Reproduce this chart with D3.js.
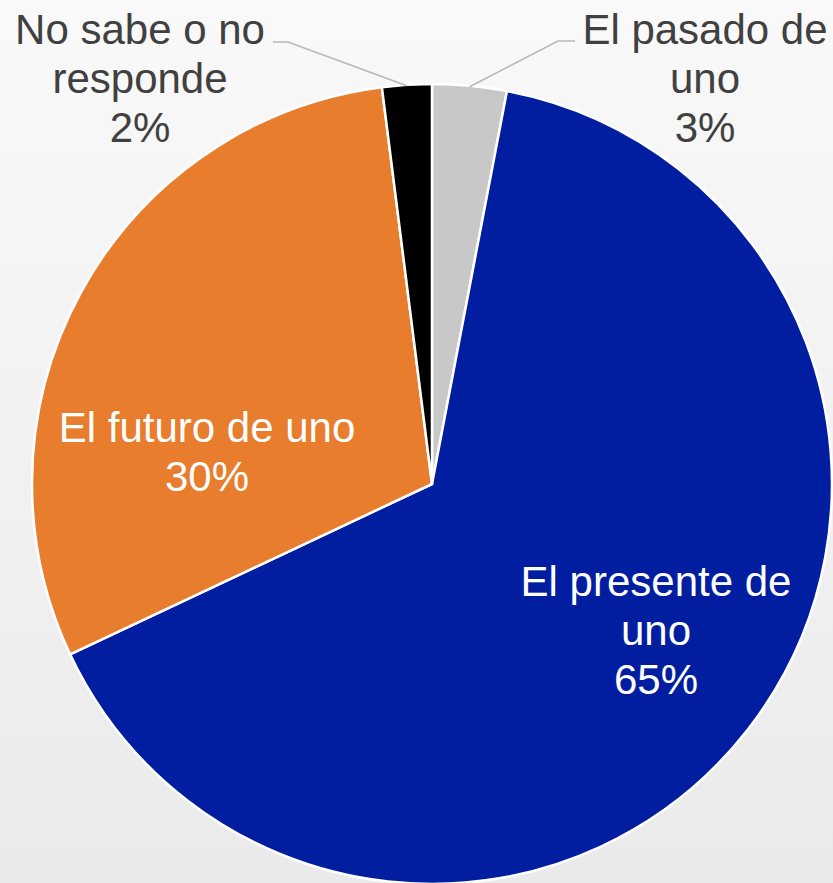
<!DOCTYPE html>
<meta charset="utf-8">
<style>
html, body { margin: 0; padding: 0; }
svg { display: block; }
.label { font-family: "Liberation Sans", Arial, sans-serif; font-size: 42px; text-anchor: middle; }
</style>
<body>
<svg width="833" height="883"></svg>
</body>
<script src="https://d3js.org/d3.v7.min.js"></script>
<script>

// data
var categories = ["El pasado de uno", "El presente de uno", "El futuro de uno", "No sabe o no responde"];
var values = [3, 65, 30, 2];
var labelLines = [["El pasado de", "uno", "3%"], ["El presente de", "uno", "65%"], ["El futuro de uno", "30%"], ["No sabe o no", "responde", "2%"]];
var colors = ["#c8c8c8", "#001e9f", "#e87d2d", "#000000"];

// layout
var cx = 432, cy = 484, radius = 400;
var lineH = 49;
// first baseline of each label, relative to pie centre
var labelPos = [[273, -440], [224, 112], [-225, -42], [-292, -440]];
var textColors = ["#404040", "#ffffff", "#ffffff", "#404040"];
// leader line: which labels have one, and the x where the line meets the text
var leaderEnd = [[575 - cx, -443], null, null, [273 - cx, -442]];

var svg = d3.select("svg");

var defs = svg.append("defs");
var grad = defs.append("linearGradient").attr("id", "bg")
  .attr("x1", 0).attr("y1", 0).attr("x2", 0).attr("y2", 1);
grad.append("stop").attr("offset", "0%").attr("stop-color", "#f9f9f9");
grad.append("stop").attr("offset", "100%").attr("stop-color", "#eaeaea");

svg.append("rect").attr("width", 833).attr("height", 883).attr("fill", "url(#bg)");

var pie = d3.pie().sort(null).value(function(d) { return d; });
var arcs = pie(values);
var arc = d3.arc().innerRadius(0).outerRadius(radius);
var edge = d3.arc().innerRadius(radius).outerRadius(radius);

var g = svg.append("g").attr("transform", "translate(" + cx + "," + cy + ")");

g.selectAll("path.slice")
  .data(arcs)
  .enter().append("path")
    .attr("class", "slice")
    .attr("d", arc)
    .attr("fill", function(d, i) { return colors[i]; })
    .attr("stroke", "#ffffff")
    .attr("stroke-width", 2.5)
    .attr("stroke-linejoin", "round");

// leader lines
arcs.forEach(function(d, i) {
  if (!leaderEnd[i]) return;
  var p = edge.centroid(d);
  var end = leaderEnd[i];
  var elbowX = end[0] + (p[0] > end[0] ? 15 : -17);
  g.append("polyline")
    .attr("points", [end, [elbowX, end[1]], [p[0], p[1] + 1]].map(function(q) { return q.join(","); }).join(" "))
    .attr("fill", "none")
    .attr("stroke", "#b8b8b8")
    .attr("stroke-width", 1.6);
});

// labels
arcs.forEach(function(d, i) {
  var t = g.append("text")
    .attr("class", "label")
    .attr("fill", textColors[i])
    .attr("x", labelPos[i][0])
    .attr("y", labelPos[i][1]);
  labelLines[i].forEach(function(line, j) {
    t.append("tspan")
      .attr("x", labelPos[i][0])
      .attr("y", labelPos[i][1] + j * lineH)
      .text(line);
  });
});

</script>
